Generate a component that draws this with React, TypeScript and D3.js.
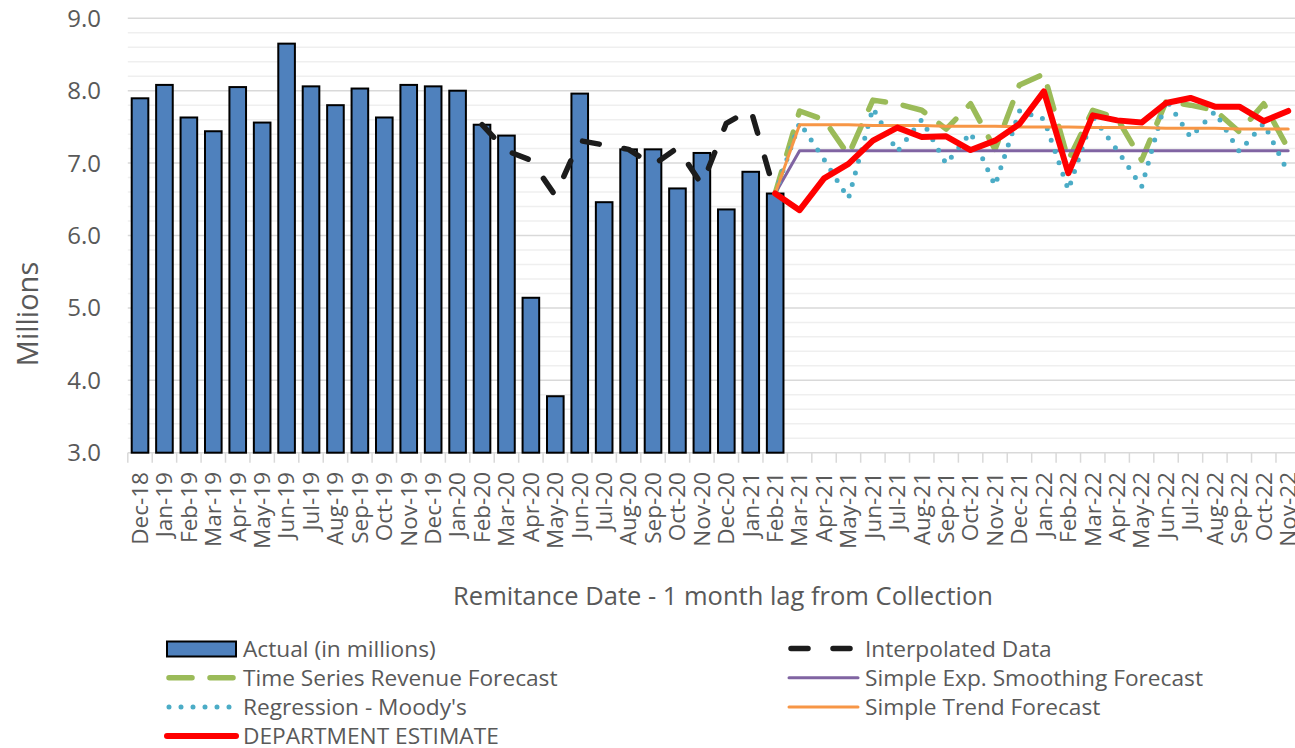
import React from 'react';
import * as d3 from 'd3';

const months = [
  'Dec-18', 'Jan-19', 'Feb-19', 'Mar-19', 'Apr-19', 'May-19', 'Jun-19', 'Jul-19', 'Aug-19', 'Sep-19', 'Oct-19', 'Nov-19',
  'Dec-19', 'Jan-20', 'Feb-20', 'Mar-20', 'Apr-20', 'May-20', 'Jun-20', 'Jul-20', 'Aug-20', 'Sep-20', 'Oct-20', 'Nov-20',
  'Dec-20', 'Jan-21', 'Feb-21', 'Mar-21', 'Apr-21', 'May-21', 'Jun-21', 'Jul-21', 'Aug-21', 'Sep-21', 'Oct-21', 'Nov-21',
  'Dec-21', 'Jan-22', 'Feb-22', 'Mar-22', 'Apr-22', 'May-22', 'Jun-22', 'Jul-22', 'Aug-22', 'Sep-22', 'Oct-22', 'Nov-22',
];

// Dec-18 .. Feb-21
const actual = [
  7.895, 8.08, 7.63, 7.44, 8.05, 7.56, 8.65, 8.06, 7.8, 8.03, 7.63, 8.08, 8.06, 8.0,
  7.53, 7.38, 5.14, 3.78, 7.96, 6.46, 7.19, 7.19, 6.65, 7.14, 6.36, 6.88, 6.58,
];

// Feb-20 .. Feb-21
const interpolatedStart = 'Feb-20';
const interpolated = [7.53, 7.17, 7.04, 6.55, 7.31, 7.25, 7.19, 6.97, 7.21, 6.7, 7.55, 7.74, 6.58];

// Feb-21 .. Nov-22
const forecastStart = 'Feb-21';
const timeSeries = [
  6.58, 7.72, 7.6, 7.11, 7.87, 7.82, 7.73, 7.47, 7.82, 7.19, 8.08, 8.23,
  7.04, 7.73, 7.62, 7.04, 7.85, 7.8, 7.73, 7.43, 7.82, 7.2,
];
const expSmoothing = [
  6.58, 7.17, 7.17, 7.17, 7.17, 7.17, 7.17, 7.17, 7.17, 7.17, 7.17, 7.17,
  7.17, 7.17, 7.17, 7.17, 7.17, 7.17, 7.17, 7.17, 7.17, 7.17,
];
const regression = [
  6.58, 7.56, 7.05, 6.51, 7.76, 7.16, 7.6, 6.99, 7.42, 6.69, 7.72, 7.61,
  6.63, 7.64, 7.18, 6.67, 7.88, 7.36, 7.71, 7.16, 7.55, 6.87,
];
const trend = [
  6.58, 7.53, 7.53, 7.53, 7.52, 7.52, 7.52, 7.51, 7.51, 7.51, 7.5, 7.5,
  7.5, 7.49, 7.49, 7.49, 7.48, 7.48, 7.48, 7.47, 7.47, 7.47,
];
const department = [
  6.58, 6.35, 6.79, 6.99, 7.31, 7.49, 7.36, 7.37, 7.18, 7.31, 7.54, 7.99,
  6.86, 7.66, 7.59, 7.56, 7.83, 7.9, 7.78, 7.78, 7.58, 7.72,
];

const yTicks = [3, 4, 5, 6, 7, 8, 9];

const width = 1295;
const height = 748;
const font = '"Open Sans", sans-serif';
const textColor = '#595959';

const x = d3.scaleBand<string>().domain(months).range([127.8, 1300.4]).paddingInner(0.32).paddingOuter(0.16);
const y = d3.scaleLinear().domain([3, 9]).range([452.7, 18.3]);
const cx = (m: string) => (x(m) as number) + x.bandwidth() / 2;

const seriesLine = (start: string, values: number[]) => {
  const s = months.indexOf(start);
  const pts: [number, number][] = values.map((v, i) => [cx(months[s + i]), y(v)]);
  return d3.line().curve(d3.curveLinear)(pts) as string;
};

type Sym = { label: string; stroke: string; width: number; dash?: string };
const lineStyles: Record<string, Sym> = {
  interpolated: { label: 'Interpolated Data', stroke: '#1c1c1c', width: 5.5, dash: '17 25' },
  timeSeries: { label: 'Time Series Revenue Forecast', stroke: '#9bbb59', width: 5.5, dash: '23 18' },
  expSmoothing: { label: 'Simple Exp. Smoothing Forecast', stroke: '#8064a2', width: 3 },
  regression: { label: "Regression - Moody's", stroke: '#4bacc6', width: 5, dash: '0 12' },
  trend: { label: 'Simple Trend Forecast', stroke: '#f79646', width: 3 },
  department: { label: 'DEPARTMENT ESTIMATE', stroke: '#ff0000', width: 6 },
};

const legendItems: { key: string; col: number; row: number }[] = [
  { key: 'actual', col: 0, row: 0 },
  { key: 'interpolated', col: 1, row: 0 },
  { key: 'timeSeries', col: 0, row: 1 },
  { key: 'expSmoothing', col: 1, row: 1 },
  { key: 'regression', col: 0, row: 2 },
  { key: 'trend', col: 1, row: 2 },
  { key: 'department', col: 0, row: 3 },
];

export default function App() {
  const minor = d3.range(3, 9.001, 0.2).filter((v) => Math.abs(v - Math.round(v)) > 0.01);
  const step = x.step();
  const left = x.range()[0];
  const right = x.range()[1];
  const bounds = d3.range(0, months.length + 1).map((i) => left + i * step);

  const paths = [
    { key: 'interpolated', d: seriesLine(interpolatedStart, interpolated) },
    { key: 'timeSeries', d: seriesLine(forecastStart, timeSeries) },
    { key: 'expSmoothing', d: seriesLine(forecastStart, expSmoothing) },
    { key: 'regression', d: seriesLine(forecastStart, regression) },
    { key: 'trend', d: seriesLine(forecastStart, trend) },
    { key: 'department', d: seriesLine(forecastStart, department) },
  ];

  return (
    <>
      <style>{`body{margin:0;overflow:hidden}`}</style>
      <svg width={width} height={height} style={{ display: 'block', fontFamily: font }}>
        <rect width={width} height={height} fill="#fff" />

        {/* gridlines */}
        {minor.map((v) => (
          <line key={`mn${v}`} x1={left} x2={right} y1={y(v)} y2={y(v)} stroke="#efefef" strokeWidth={1.5} />
        ))}
        {yTicks.map((v) => (
          <line key={`mj${v}`} x1={left} x2={right} y1={y(v)} y2={y(v)} stroke="#d9d9d9" strokeWidth={1.5} />
        ))}

        {/* x axis ticks */}
        {bounds.map((bx, i) => (
          <line key={`t${i}`} x1={bx} x2={bx} y1={y(3)} y2={y(3) + 10} stroke="#d9d9d9" strokeWidth={1.5} />
        ))}

        {/* y tick labels */}
        {yTicks.map((v) => (
          <text key={`yl${v}`} x={101} y={y(v)} dy="0.35em" textAnchor="end" fontSize={24} fill={textColor}>
            {v.toFixed(1)}
          </text>
        ))}

        {/* x tick labels */}
        {months.map((m) => (
          <text
            key={`xl${m}`}
            transform={`translate(${cx(m)},472) rotate(-90)`}
            dy="0.35em"
            textAnchor="end"
            fontSize={22.5}
            fill={textColor}
          >
            {m}
          </text>
        ))}

        {/* bars */}
        {actual.map((v, i) => (
          <rect
            key={`b${i}`}
            x={x(months[i])}
            y={y(v)}
            width={x.bandwidth()}
            height={y(3) - y(v)}
            fill="#4f81bd"
            stroke="#000"
            strokeWidth={2}
          />
        ))}

        {/* series lines */}
        {paths.map((p) => {
          const s = lineStyles[p.key];
          return (
            <path
              key={p.key}
              d={p.d}
              fill="none"
              stroke={s.stroke}
              strokeWidth={s.width}
              strokeDasharray={s.dash}
              strokeLinecap="round"
              strokeLinejoin="round"
            />
          );
        })}

        {/* axis titles */}
        <text x={723} y={605} textAnchor="middle" fontSize={25.5} fill={textColor}>
          Remitance Date - 1 month lag from Collection
        </text>
        <text transform="translate(38,314) rotate(-90)" textAnchor="middle" fontSize={29} fill={textColor}>
          Millions
        </text>

        {/* legend */}
        {legendItems.map((it) => {
          const sx = it.col === 0 ? 167 : 789;
          const tx = it.col === 0 ? 243 : 865;
          const base = 656.5 + it.row * 29.2;
          const cy = base - 8;
          const label = it.key === 'actual' ? 'Actual (in millions)' : lineStyles[it.key].label;
          return (
            <g key={`lg${it.key}`}>
              {it.key === 'actual' ? (
                <rect x={sx} y={cy - 7} width={69} height={15} fill="#4f81bd" stroke="#000" strokeWidth={2} />
              ) : (
                <line
                  x1={sx + (lineStyles[it.key].dash ? 2 : 0)}
                  x2={sx + 69}
                  y1={cy}
                  y2={cy}
                  stroke={lineStyles[it.key].stroke}
                  strokeWidth={lineStyles[it.key].width}
                  strokeDasharray={lineStyles[it.key].dash}
                  strokeLinecap="round"
                />
              )}
              <text x={tx} y={base} fontSize={22.7} fill={textColor}>
                {label}
              </text>
            </g>
          );
        })}
      </svg>
    </>
  );
}
